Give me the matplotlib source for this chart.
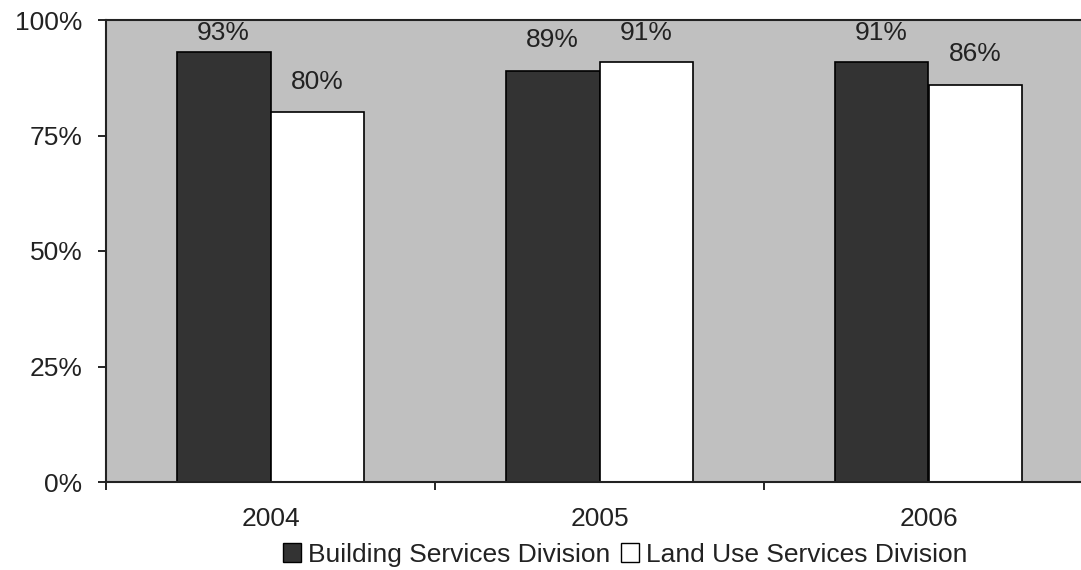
import matplotlib
matplotlib.use("Agg")
import matplotlib.pyplot as plt
from matplotlib.patches import Patch
import numpy as np

years = ["2004", "2005", "2006"]
building = [93, 89, 91]
land_use = [80, 91, 86]
series_names = ["Building Services Division", "Land Use Services Division"]
y_ticks = [0, 25, 50, 75, 100]

plt.rcParams["font.family"] = ["Liberation Sans", "DejaVu Sans"]
FS = 19
TXT = "#222222"

fig = plt.figure(figsize=(10.81, 5.70), dpi=100)
ax = fig.add_axes([106 / 1081, 88 / 570, 987 / 1081, 462 / 570])
ax.set_facecolor("#c0c0c0")

x = np.arange(len(years))
w = 0.285
dark = "#333333"
b1 = ax.bar(x - w / 2, building, w, color=dark, edgecolor="black", linewidth=1.2)
b2 = ax.bar(x + w / 2, land_use, w, color="white", edgecolor="black", linewidth=1.2)

# value labels sit above each bar, kept below the top of the plot area
for bars, vals in ((b1, building), (b2, land_use)):
    for rect, v in zip(bars, vals):
        ax.text(rect.get_x() + rect.get_width() / 2, min(v + 4.0, 94.6), f"{v}%",
                ha="center", va="bottom", fontsize=FS, color=TXT)

ax.set_xlim(-0.5, len(years) - 0.5)
ax.set_ylim(0, 100)
ax.set_yticks(y_ticks)
ax.set_yticklabels([f"{t}%" for t in y_ticks], fontsize=FS, color=TXT)
ax.set_xticks(x)
ax.set_xticklabels(years, fontsize=FS, color=TXT)
ax.tick_params(axis="x", length=0, pad=18)
ax.set_xticks(np.arange(len(years) + 1) - 0.5, minor=True)
ax.tick_params(axis="x", which="minor", length=6, width=1.2, direction="out")
ax.tick_params(axis="y", length=6, width=1.2, direction="out", pad=11)

for s in ax.spines.values():
    s.set_linewidth(1.5)
    s.set_color("#222222")

handles = [Patch(facecolor=dark, edgecolor="black"),
           Patch(facecolor="white", edgecolor="black")]
fig.legend(handles, series_names, loc="center", bbox_to_anchor=(0.578, 0.027),
           ncol=2, frameon=False, fontsize=FS, handlelength=0.7, handleheight=0.7,
           handletextpad=0.25, columnspacing=0.4, borderpad=0, borderaxespad=0,
           labelcolor=TXT)

fig.savefig("out.png", dpi=100)
